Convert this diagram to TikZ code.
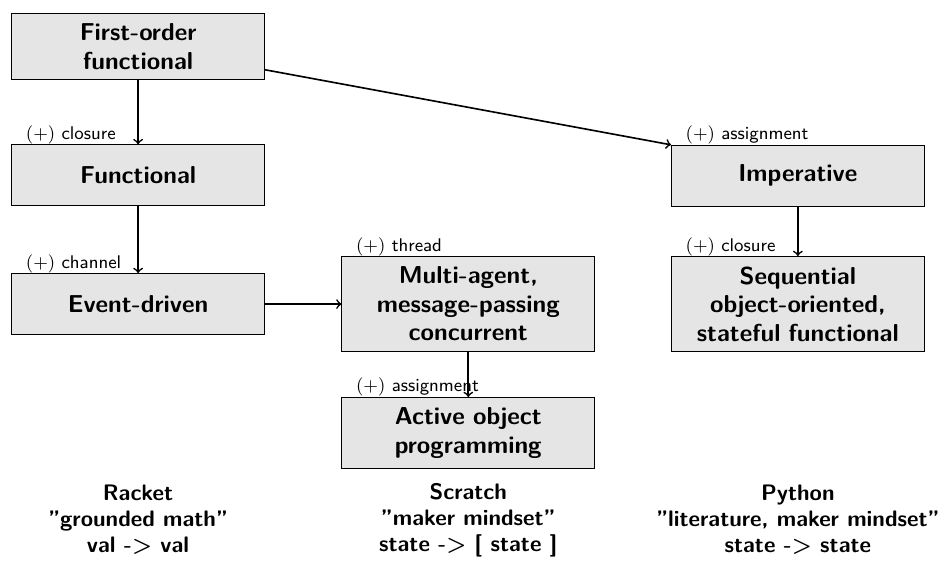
\documentclass[tikz,border=0pt]{standalone}
\usepackage{tikz}
\tikzset{
  paradigm/.style={draw, fill=gray!20, align=center, text width=114pt,
    minimum height=30pt, inner sep=5pt, font=\sffamily\bfseries\large},
  added/.style={anchor=south west, inner sep=0pt, xshift=7pt, font=\sffamily\small},
  lang/.style={align=center, font=\sffamily\bfseries\fontsize{11}{12.8}\selectfont},
}

\begin{document}
\begin{tikzpicture}
    \useasboundingbox (0,0) rectangle (16.32,-9.77);
    % paradigms
    \node[paradigm] (first) at (2.38,-0.80) {First-order\\functional};
    \node[paradigm] (func) at (2.38,-3.02) {Functional};
    \node[paradigm] (event) at (2.38,-5.24) {Event-driven};
    \node[paradigm] (multi) at (8.07,-5.24) {Multi-agent,\\message-passing\\concurrent};
    \node[paradigm] (active) at (8.07,-7.46) {Active object\\programming};
    \node[paradigm] (imp) at (13.75,-3.03) {Imperative};
    \node[paradigm] (seq) at (13.75,-5.24) {Sequential\\object-oriented,\\stateful functional};
    % what gets added
    \node[added] (lclosure) at (func.north west) {$(+)$ closure};
    \node[added] (lchannel) at (event.north west) {$(+)$ channel};
    \node[added] (lthread) at (multi.north west) {$(+)$ thread};
    \node[added] (lassign) at (active.north west) {$(+)$ assignment};
    \node[added] (lassign2) at (imp.north west) {$(+)$ assignment};
    \node[added] (lclosure2) at (seq.north west) {$(+)$ closure};
    % languages
    \node[lang] (racket) at (2.38,-8.96) {Racket\\"grounded math"\\val -> val};
    \node[lang] (scratch) at (8.07,-8.96) {Scratch\\"maker mindset"\\state -> [ state ]};
    \node[lang] (python) at (13.75,-8.96) {Python\\"literature, maker mindset"\\state -> state};
    % steps
    \draw[->, thick] (first) -- (func);
    \draw[->, thick] (func) -- (event);
    \draw[->, thick] (event) -- (multi);
    \draw[->, thick] (multi) -- (active);
    \draw[->, thick] (first) -- (imp.north west);
    \draw[->, thick] (imp) -- (seq);
\end{tikzpicture}
\end{document}
